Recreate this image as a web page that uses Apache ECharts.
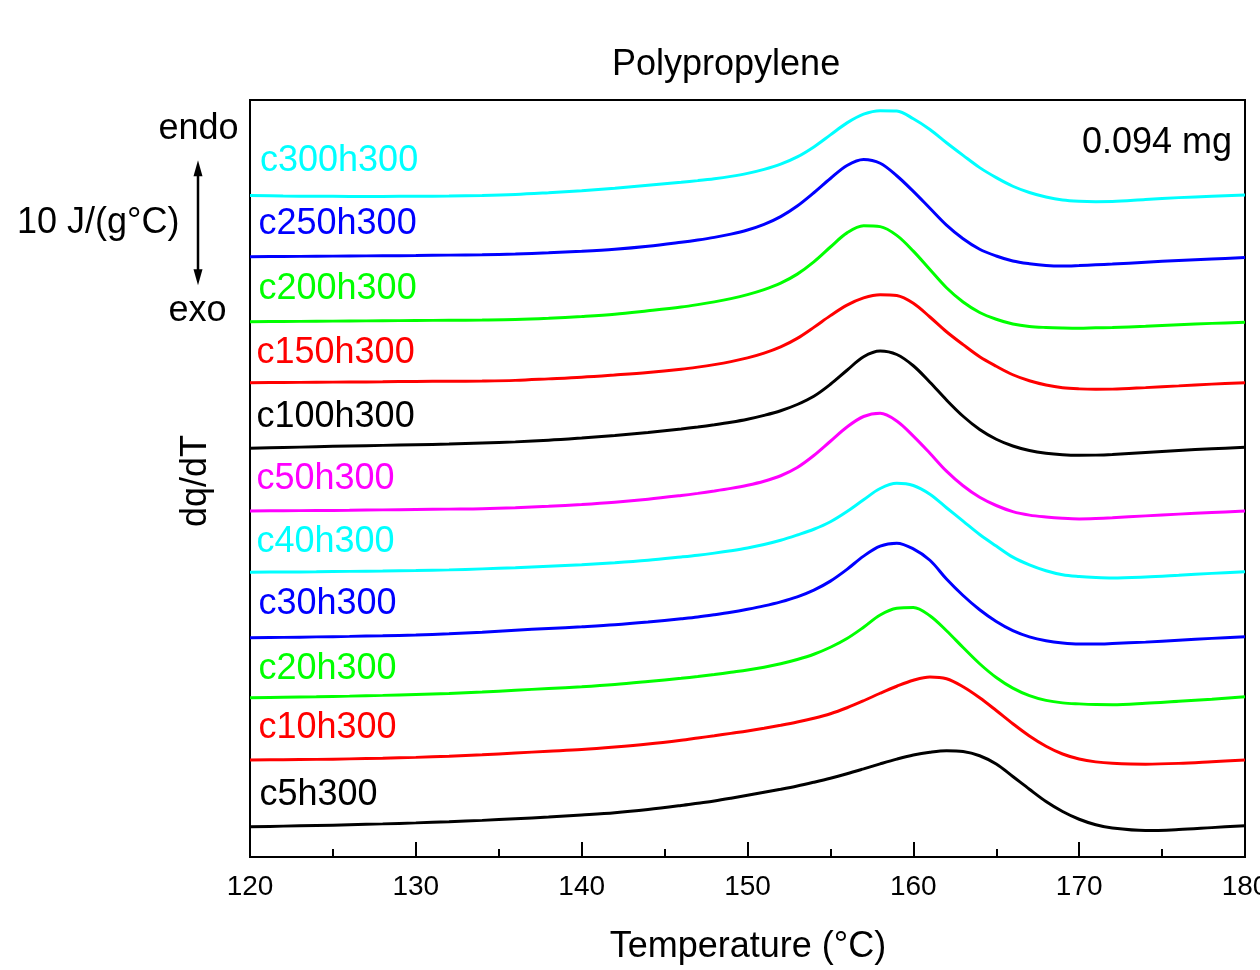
<!DOCTYPE html>
<html>
<head>
<meta charset="utf-8">
<title>Polypropylene DSC</title>
<script src="https://cdn.jsdelivr.net/npm/echarts@6/dist/echarts.min.js"></script>
<style>
  html, body { margin: 0; padding: 0; background: #fff; }
  #chart { width: 1260px; height: 970px; }
</style>
</head>
<body>
<div id="chart"></div>
<script>
// Temperature grid (°C) shared by all heat-flow curves
const temperature = [
  120, 122, 124, 126, 128, 130, 132, 134, 136, 138, 140, 142, 144,
  146, 147, 148, 149, 150, 151, 152, 153, 154, 155, 156, 157, 158, 159,
  160, 161, 162, 163, 164, 165, 166, 167, 168, 169, 170, 171, 172,
  174, 176, 178, 180
];

// Stacked dq/dT traces, J/(g°C) with vertical offsets
const c300h300 = [
  52.92, 52.88, 52.86, 52.85, 52.85, 52.86, 52.88, 52.92, 53.00, 53.14, 53.30, 53.50, 53.74,
  53.98, 54.11, 54.26, 54.45, 54.69, 55.01, 55.43, 56.01, 56.81, 57.77, 58.73, 59.43, 59.71, 59.68,
  59.06, 58.20, 57.14, 56.13, 55.15, 54.35, 53.66, 53.16, 52.80, 52.56, 52.46, 52.43, 52.44,
  52.60, 52.75, 52.86, 52.96
];
const c250h300 = [
  48.02, 48.04, 48.06, 48.08, 48.10, 48.12, 48.15, 48.18, 48.24, 48.34, 48.46, 48.62, 48.86,
  49.18, 49.36, 49.57, 49.83, 50.16, 50.61, 51.23, 52.08, 53.14, 54.28, 55.32, 55.80, 55.50, 54.50,
  53.25, 51.90, 50.55, 49.46, 48.62, 48.08, 47.68, 47.46, 47.32, 47.28, 47.32, 47.38, 47.44,
  47.58, 47.72, 47.84, 47.96
];
const c200h300 = [
  42.82, 42.84, 42.86, 42.88, 42.90, 42.92, 42.94, 42.96, 43.00, 43.10, 43.24, 43.42, 43.70,
  44.00, 44.19, 44.41, 44.67, 44.99, 45.39, 45.91, 46.63, 47.61, 48.80, 49.93, 50.50, 50.43, 49.73,
  48.47, 47.00, 45.54, 44.40, 43.56, 43.02, 42.64, 42.44, 42.36, 42.32, 42.30, 42.34, 42.36,
  42.46, 42.58, 42.69, 42.78
];
const c150h300 = [
  37.94, 37.96, 37.98, 38.00, 38.02, 38.05, 38.06, 38.08, 38.13, 38.25, 38.38, 38.56, 38.76,
  39.02, 39.19, 39.39, 39.63, 39.93, 40.31, 40.81, 41.49, 42.37, 43.31, 44.15, 44.73, 44.99, 44.92,
  44.30, 43.20, 42.02, 40.99, 40.02, 39.26, 38.58, 38.10, 37.76, 37.54, 37.45, 37.42, 37.43,
  37.55, 37.69, 37.83, 37.94
];
const c100h300 = [
  32.70, 32.76, 32.82, 32.88, 32.93, 32.98, 33.04, 33.12, 33.21, 33.34, 33.52, 33.72, 33.96,
  34.24, 34.40, 34.58, 34.78, 35.02, 35.33, 35.70, 36.20, 36.86, 37.82, 38.94, 40.02, 40.48, 40.20,
  39.30, 37.98, 36.56, 35.26, 34.20, 33.42, 32.88, 32.52, 32.30, 32.18, 32.14, 32.15, 32.20,
  32.36, 32.52, 32.66, 32.78
];
const c50h300 = [
  27.68, 27.70, 27.72, 27.74, 27.77, 27.80, 27.83, 27.86, 27.94, 28.06, 28.20, 28.38, 28.62,
  28.92, 29.09, 29.28, 29.49, 29.74, 30.06, 30.50, 31.16, 32.12, 33.26, 34.40, 35.24, 35.50, 34.88,
  33.67, 32.30, 30.87, 29.70, 28.78, 28.12, 27.63, 27.35, 27.20, 27.10, 27.05, 27.08, 27.14,
  27.29, 27.43, 27.56, 27.68
];
const c40h300 = [
  22.78, 22.80, 22.82, 22.85, 22.88, 22.92, 22.97, 23.05, 23.14, 23.26, 23.38, 23.54, 23.74,
  24.00, 24.14, 24.31, 24.50, 24.72, 25.00, 25.34, 25.76, 26.22, 26.82, 27.64, 28.58, 29.48, 29.90,
  29.72, 29.02, 27.94, 26.87, 25.80, 24.88, 23.99, 23.37, 22.90, 22.58, 22.44, 22.36, 22.32,
  22.40, 22.54, 22.69, 22.82
];
const c30h300 = [
  17.54, 17.57, 17.61, 17.65, 17.70, 17.76, 17.86, 17.98, 18.14, 18.28, 18.42, 18.58, 18.80,
  19.06, 19.20, 19.38, 19.58, 19.82, 20.09, 20.41, 20.81, 21.35, 22.07, 23.01, 24.07, 24.87, 25.10,
  24.65, 23.74, 22.24, 20.92, 19.78, 18.84, 18.11, 17.61, 17.30, 17.12, 17.04, 17.04, 17.08,
  17.19, 17.34, 17.49, 17.62
];
const c20h300 = [
  12.74, 12.78, 12.82, 12.87, 12.93, 13.00, 13.08, 13.20, 13.34, 13.48, 13.62, 13.80, 14.04,
  14.30, 14.44, 14.60, 14.78, 14.96, 15.18, 15.46, 15.80, 16.22, 16.78, 17.48, 18.38, 19.36, 19.90,
  19.97, 19.30, 18.10, 16.76, 15.46, 14.36, 13.51, 12.91, 12.53, 12.33, 12.25, 12.20, 12.19,
  12.30, 12.46, 12.62, 12.82
];
const c10h300 = [
  7.76, 7.78, 7.81, 7.85, 7.90, 7.97, 8.06, 8.18, 8.32, 8.46, 8.60, 8.80, 9.04,
  9.34, 9.52, 9.70, 9.89, 10.08, 10.30, 10.54, 10.80, 11.10, 11.46, 11.94, 12.50, 13.10, 13.66,
  14.14, 14.40, 14.26, 13.62, 12.74, 11.72, 10.66, 9.68, 8.86, 8.24, 7.84, 7.61, 7.50,
  7.43, 7.49, 7.62, 7.76
];
const c5h300 = [
  2.42, 2.47, 2.52, 2.58, 2.65, 2.73, 2.82, 2.93, 3.06, 3.20, 3.36, 3.54, 3.80,
  4.12, 4.30, 4.48, 4.70, 4.94, 5.18, 5.42, 5.68, 5.98, 6.30, 6.66, 7.05, 7.45, 7.83,
  8.16, 8.38, 8.50, 8.44, 8.10, 7.44, 6.44, 5.42, 4.44, 3.64, 3.02, 2.58, 2.32,
  2.12, 2.20, 2.35, 2.50
];

// Axis ticks
const xTicks = [120, 130, 140, 150, 160, 170, 180];
// Scale bar length, J/(g°C)
const scaleBarSpan = 10;

const FONT = '"Liberation Sans", Arial, Helvetica, sans-serif';

const traces = [
  { name: 'c300h300', values: c300h300, color: '#00FFFF', lx: 260, ly: 161 },
  { name: 'c250h300', values: c250h300, color: '#0000FF', lx: 258.5, ly: 224.5 },
  { name: 'c200h300', values: c200h300, color: '#00FF00', lx: 258.5, ly: 289.5 },
  { name: 'c150h300', values: c150h300, color: '#FF0000', lx: 256.5, ly: 353.5 },
  { name: 'c100h300', values: c100h300, color: '#000000', lx: 256.5, ly: 417.5 },
  { name: 'c50h300',  values: c50h300,  color: '#FF00FF', lx: 256.5, ly: 479 },
  { name: 'c40h300',  values: c40h300,  color: '#00FFFF', lx: 256.5, ly: 542.5 },
  { name: 'c30h300',  values: c30h300,  color: '#0000FF', lx: 258.5, ly: 604.5 },
  { name: 'c20h300',  values: c20h300,  color: '#00FF00', lx: 258.5, ly: 669.5 },
  { name: 'c10h300',  values: c10h300,  color: '#FF0000', lx: 258.5, ly: 728.5 },
  { name: 'c5h300',   values: c5h300,   color: '#000000', lx: 259.5, ly: 795.5 }
];

function textEl(text, x, y, opts) {
  opts = opts || {};
  const align = opts.align || 'left';
  return {
    type: 'text',
    x: x, y: y,
    rotation: opts.rotation || 0,
    silent: true,
    z: 10,
    style: {
      text: text,
      fill: opts.color || '#000',
      font: (opts.size || 36) + 'px ' + FONT,
      align: align,
      verticalAlign: 'middle',
      textAlign: align,
      textVerticalAlign: 'middle'
    }
  };
}

const chart = echarts.init(document.getElementById('chart'), null, { renderer: 'canvas' });

const graphics = [
  textEl('Polypropylene', 612, 65),
  textEl('0.094 mg', 1232, 143.5, { align: 'right' }),
  textEl('endo', 158.5, 129),
  textEl('10 J/(g°C)', 17, 223.5),
  textEl('exo', 168.5, 311),
  textEl('dq/dT', 196, 481, { align: 'center', rotation: Math.PI / 2 }),
  textEl('Temperature (°C)', 748, 947.5, { align: 'center' })
];
traces.forEach(function (t) {
  graphics.push(textEl(t.name, t.lx, t.ly, { color: t.color }));
});

chart.setOption({
  animation: false,
  backgroundColor: '#fff',
  grid: {
    left: 250, right: 15, top: 100, bottom: 113,
    outerBoundsMode: 'none',
    containLabel: false,
    show: true, borderColor: '#000', borderWidth: 2, backgroundColor: 'transparent'
  },
  xAxis: {
    type: 'value',
    min: xTicks[0],
    max: xTicks[xTicks.length - 1],
    interval: xTicks[1] - xTicks[0],
    axisLine: { show: true, lineStyle: { color: '#000', width: 2 } },
    axisTick: { show: true, inside: true, length: 15, lineStyle: { color: '#000', width: 2 } },
    minorTick: { show: true, splitNumber: 2, length: 8, lineStyle: { color: '#000', width: 2 } },
    axisLabel: { color: '#000', fontSize: 28, fontFamily: FONT, margin: 16, hideOverlap: false },
    splitLine: { show: false },
    minorSplitLine: { show: false }
  },
  yAxis: {
    type: 'value',
    min: 0,
    max: 60.56,
    axisLine: { show: false },
    axisTick: { show: false },
    axisLabel: { show: false },
    splitLine: { show: false }
  },
  series: traces.map(function (t) {
    return {
      name: t.name,
      type: 'line',
      data: temperature.map(function (T, i) { return [T, t.values[i]]; }),
      showSymbol: false,
      symbol: 'none',
      smooth: 0.34,
      silent: true,
      lineStyle: { color: t.color, width: 3 }
    };
  }),
  graphic: graphics
});

// Double-headed scale bar, sized through the y axis so it spans exactly scaleBarSpan
(function () {
  const base = 45.75;
  const yBot = chart.convertToPixel({ yAxisIndex: 0 }, base);
  const yTop = chart.convertToPixel({ yAxisIndex: 0 }, base + scaleBarSpan);
  const x = 198;
  const head = 16, half = 4.5;
  graphics.push(
    { type: 'line', silent: true, shape: { x1: x, y1: yTop + head - 2, x2: x, y2: yBot - head + 2 }, style: { stroke: '#000', lineWidth: 2.5 } },
    { type: 'polygon', silent: true, shape: { points: [[x, yTop], [x - half, yTop + head], [x + half, yTop + head]] }, style: { fill: '#000' } },
    { type: 'polygon', silent: true, shape: { points: [[x, yBot], [x - half, yBot - head], [x + half, yBot - head]] }, style: { fill: '#000' } }
  );
  chart.setOption({ graphic: graphics }, { replaceMerge: ['graphic'] });
})();
</script>
</body>
</html>
